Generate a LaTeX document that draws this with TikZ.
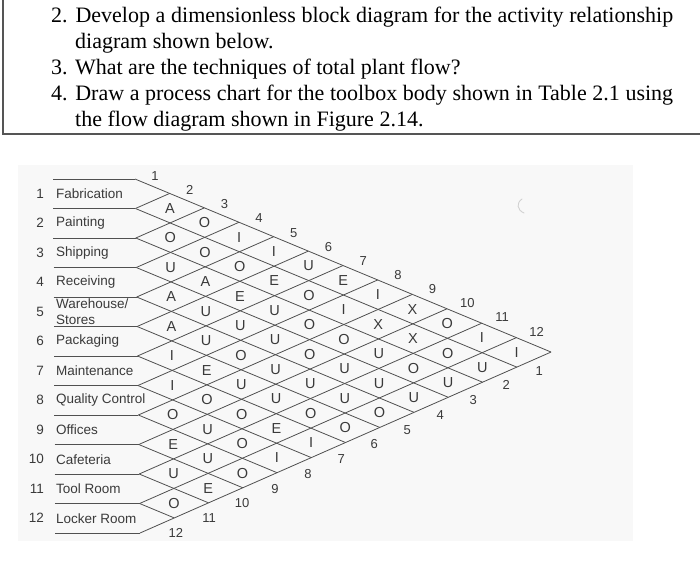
\documentclass[tikz,border=0pt]{standalone}
\usepackage{fontspec}
\setmainfont{Liberation Serif}
\newfontfamily\chartfont{Liberation Sans}
\definecolor{ink}{HTML}{3A3A3A}
\definecolor{gridc}{HTML}{505050}
\definecolor{boxc}{HTML}{555555}
\definecolor{bgc}{HTML}{F8F8F8}
\begin{document}
\begin{tikzpicture}[x=1pt,y=-1pt,
  qline/.style={anchor=base west, inner sep=0pt, font=\fontsize{22}{26}\selectfont},
  gridline/.style={draw=gridc, line width=0.8pt},
  dept/.style={anchor=west, inner sep=0pt, text=ink, align=left, font=\chartfont\fontsize{13.5}{16.5}\selectfont},
  deptnum/.style={anchor=east, inner sep=0pt, text=ink, font=\chartfont\fontsize{13.5}{16}\selectfont},
  rel/.style={inner sep=0pt, text=ink, font=\chartfont\fontsize{14.5}{16}\selectfont},
  colnum/.style={inner sep=0pt, text=ink, font=\chartfont\fontsize{13}{15}\selectfont}]
\useasboundingbox (0,0) rectangle (700,570);
\fill[white] (0,0) rectangle (700,570);
\fill[bgc] (18,165) rectangle (633,541);
% question frame
\coordinate (fTL) at (3,-2);
\coordinate (fBL) at (3,134);
\coordinate (fBR) at (702,134);
\draw[boxc, line width=1.3pt] (fTL) -- (fBL) -- (fBR);
% questions
\node[qline] (q1) at (51,22) {\makebox[622pt][s]{2. Develop a dimensionless block diagram for the activity relationship}};
\node[qline] (q2) at (75,48) {diagram shown below.};
\node[qline] (q3) at (51,74) {3. What are the techniques of total plant flow?};
\node[qline] (q4) at (51,100) {\makebox[622pt][s]{4. Draw a process chart for the toolbox body shown in Table 2.1 using}};
\node[qline] (q5) at (75,126) {the flow diagram shown in Figure 2.14.};
% lattice points
\foreach \p in {0,...,12}{
  \foreach \q in {0,...,\p}{
    \coordinate (V-\p-\q) at ({135+34.67*\p-34.25*\q},{179+14.42*\p+15.08*\q});
  }
}
% row lines and grid
\foreach \k in {0,...,12}{
  \coordinate (H-\k) at ({53+0.17*\k},{179+29.5*\k});
  \draw[gridline] (H-\k) -- (V-\k-\k);
  \draw[gridline] (V-\k-\k) -- (V-12-\k);
  \draw[gridline] (V-\k-\k) -- (V-\k-0);
}
% department labels
\foreach \n/\name in {1/Fabrication,2/Painting,3/Shipping,4/Receiving,5/{Warehouse/\\Stores},6/Packaging,7/Maintenance,8/Quality Control,9/Offices,10/Cafeteria,11/Tool Room,12/Locker Room}{
  \node[deptnum] (n-\n) at (44,{179+29.5*(\n-0.5)}) {\n};
  \node[dept] (d-\n) at (56,{179+29.5*(\n-0.5)}) {\name};
}
% relationship letters, by diagonal distance d
\foreach \d/\list in {
  1/{A,O,U,A,A,I,I,O,E,U,O},
  2/{O,O,A,U,U,E,O,U,U,E},
  3/{I,O,E,U,O,U,O,O,O},
  4/{I,E,U,U,U,U,E,I},
  5/{U,O,O,O,U,O,I},
  6/{E,I,O,U,U,O},
  7/{I,X,U,U,O},
  8/{X,X,O,U},
  9/{O,O,U},
  10/{I,U},
  11/{I}}{
  \foreach \L [count=\i] in \list {
    \pgfmathtruncatemacro{\j}{\i+\d}
    \node[rel] (c-\i-\j) at ({135+34.67*(\j-0.5)-34.25*(\i-0.5)},{179+14.42*(\j-0.5)+15.08*(\i-0.5)}) {\L};
  }
}
% column numbers
\foreach \k in {1,...,12}{
  \node[colnum] (t-\k) at ({155+34.7*(\k-1)},{176+14.15*(\k-1)}) {\k};
  \node[colnum] (b-\k) at ({539.3-33.03*(\k-1)},{370.7+14.75*(\k-1)}) {\k};
}
% faint mark
\draw[black!18, line width=0.9pt, line cap=round] (522,199) .. controls (516,203) and (517,210) .. (524,213);
\end{tikzpicture}
\end{document}
